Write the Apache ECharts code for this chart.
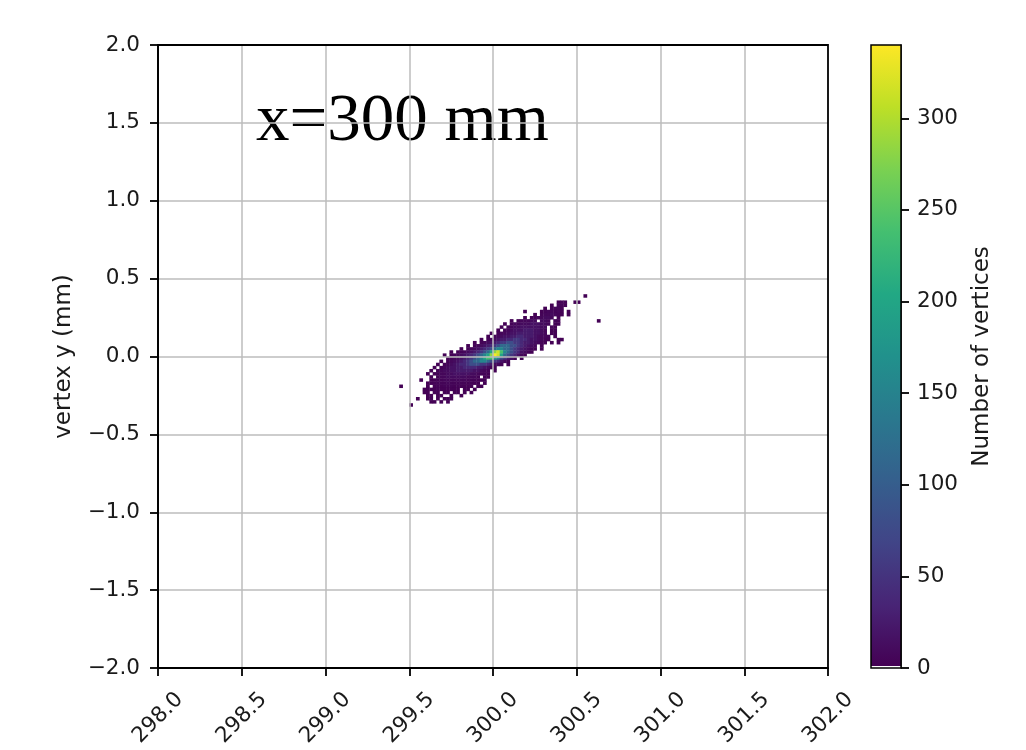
<!DOCTYPE html>
<html>
<head>
<meta charset="utf-8">
<script src="https://cdn.jsdelivr.net/npm/echarts@6/dist/echarts.min.js"></script>
<style>
  html, body { margin: 0; padding: 0; background: #fff; }
  #chart { width: 1026px; height: 750px; }
</style>
</head>
<body>
<div id="chart"></div>
<script>
// 2D histogram of vertex positions, bins of 0.02 mm
const titleText = 'x=300 mm';
const xRange = [298, 302];
const yRange = [-2, 2];
const tickStep = 0.5;
const binSize = 0.02;
const firstBinX = 299.44;   // left edge of column 0
const firstBinY = 0.38;     // bottom edge of row 0 (rows go downwards)

// one character per bin, '.' = empty
const levelKeys = '123456789ABCDEFG';
const levelCounts = [1, 3, 6, 10, 16, 25, 38, 55, 80, 115, 155, 200, 240, 280, 315, 340];

// [first column, bins] for each row from y=0.38 down to y=-0.32
const cellRows = [
  [55, '1'],
  [0, ''],
  [47, '121..11'],
  [45, '1.321'],
  [43, '1.2331'],
  [37, '1....1233231.1'],
  [40, '1.2334321.1'],
  [37, '1.1233443.1'],
  [33, '1.233344.443.21...........1'],
  [31, '1.233444555443.11'],
  [30, '1.234455555544.21'],
  [29, '1.2345556665543.11'],
  [27, '1.133455666665543.11'],
  [26, '1.23455667766654332.1'],
  [24, '1.2345667788776554321..11'],
  [22, '1.23456788998876654321.1.1'],
  [20, '1.23456789AAA99876543.1'],
  [18, '1.23456789ABBAA98765421.1'],
  [15, '1.123456789ACEFDBA9875421'],
  [13, '1.123456789ABCEGFCA987531'],
  [14, '123456789ABCDDCB98652.1'],
  [12, '1.23456789AABBA987531'],
  [11, '1.234567789998876431.1'],
  [10, '1.23455667777665421'],
  [9, '1.2344556666655432.1'],
  [8, '1.12334455555443221'],
  [9, '1.2334444443332.11'],
  [6, '1..11223333333222111'],
  [8, '1122223222221211.1'],
  [0, '1.......1.121222121111.11'],
  [7, '11112111111.11.1'],
  [7, '11.11.11.11.1.1'],
  [8, '11.11..1..1'],
  [5, '1..11.1.111'],
  [9, '11.1.1'],
  [3, '1']
];

const colorbarRange = [0, 340];
const colorbarTicks = [0, 50, 100, 150, 200, 250, 300];
const viridis = ['#440154', '#482475', '#414487', '#355f8d', '#2a788e', '#21918c',
                 '#22a884', '#44bf70', '#7ad151', '#bddf26', '#fde725'];

const cells = [];
cellRows.forEach(([start, row], r) => {
  for (let i = 0; i < row.length; i++) {
    const k = levelKeys.indexOf(row[i]);
    if (k < 0) continue;
    cells.push([firstBinX + (start + i) * binSize, firstBinY - r * binSize, levelCounts[k]]);
  }
});

const font = 'DejaVu Sans';
const ink = '#1a1a1a';
const fmt = v => (v < 0 ? '\u2212' : '') + Math.abs(v).toFixed(1);

const stops = [{ offset: 0, color: '#ffffff' }, { offset: 0.003, color: '#ffffff' }];
viridis.forEach((c, i) => {
  stops.push({ offset: Math.max(0.0031, i / (viridis.length - 1)), color: c });
});

const chart = echarts.init(document.getElementById('chart'), null, { renderer: 'canvas' });
chart.setOption({
  animation: false,
  title: {
    text: titleText, left: 256, top: 89, padding: 0,
    textStyle: { fontFamily: 'Liberation Serif', fontSize: 67, fontWeight: 'normal', color: '#000' }
  },
  grid: [
    { left: 158, top: 45, width: 670, height: 623, show: true, borderColor: '#000', borderWidth: 1.8, z: 12 },
    { left: 871, top: 45, width: 30, height: 623, show: true, borderColor: '#000', borderWidth: 1.5, z: 12 }
  ],
  visualMap: {
    show: false, type: 'continuous', seriesIndex: 0, dimension: 2,
    min: colorbarRange[0], max: colorbarRange[1],
    inRange: { color: viridis }
  },
  xAxis: [
    {
      type: 'value', gridIndex: 0, min: xRange[0], max: xRange[1], interval: tickStep, z: 10,
      axisLine: { show: true, onZero: false, lineStyle: { color: '#000', width: 1.8 } },
      axisTick: { show: true, length: 8, lineStyle: { color: '#000', width: 1.8 } },
      axisLabel: {
        rotate: 45, align: 'center', verticalAlign: 'middle', margin: 50,
        fontFamily: font, fontSize: 21.5, color: ink, formatter: fmt
      },
      splitLine: { show: true, showMinLine: false, showMaxLine: false, lineStyle: { color: '#bdbdbd', width: 1.5 } }
    },
    { type: 'value', gridIndex: 1, min: 0, max: 1, show: false }
  ],
  yAxis: [
    {
      type: 'value', gridIndex: 0, min: yRange[0], max: yRange[1], interval: tickStep, z: 10,
      axisLine: { show: true, onZero: false, lineStyle: { color: '#000', width: 1.8 } },
      axisTick: { show: true, length: 8, lineStyle: { color: '#000', width: 1.8 } },
      axisLabel: { margin: 18, fontFamily: font, fontSize: 21.5, color: ink, formatter: fmt },
      splitLine: { show: true, showMinLine: false, showMaxLine: false, lineStyle: { color: '#bdbdbd', width: 1.5 } },
      name: 'vertex y (mm)', nameLocation: 'middle', nameGap: 82,
      nameTextStyle: { fontFamily: font, fontSize: 23, color: ink }
    },
    {
      type: 'value', gridIndex: 1, position: 'right',
      min: colorbarRange[0], max: colorbarRange[1],
      axisLine: { show: true, onZero: false, lineStyle: { color: '#000', width: 1.5 } },
      axisTick: { show: true, length: 8, customValues: colorbarTicks, lineStyle: { color: '#000', width: 1.8 } },
      axisLabel: { margin: 16, customValues: colorbarTicks, fontFamily: font, fontSize: 21.5, color: ink },
      splitLine: { show: false },
      name: 'Number of vertices', nameLocation: 'middle', nameRotate: 90, nameGap: 70,
      nameTextStyle: { fontFamily: font, fontSize: 23, color: ink }
    }
  ],
  series: [
    {
      type: 'custom', xAxisIndex: 0, yAxisIndex: 0, z: 2,
      data: cells,
      encode: { x: 0, y: 1 },
      renderItem: (params, api) => {
        const x = api.value(0), y = api.value(1);
        const p0 = api.coord([x, y + binSize]);
        const p1 = api.coord([x + binSize, y]);
        return {
          type: 'rect',
          shape: { x: p0[0], y: p0[1], width: p1[0] - p0[0] + 0.4, height: p1[1] - p0[1] + 0.4 },
          style: { fill: api.visual('color') }
        };
      }
    },
    {
      type: 'custom', xAxisIndex: 1, yAxisIndex: 1,
      data: [[0, colorbarRange[0]]],
      renderItem: (params, api) => {
        const p0 = api.coord([0, colorbarRange[1]]);
        const p1 = api.coord([1, colorbarRange[0]]);
        return {
          type: 'rect',
          shape: { x: p0[0], y: p0[1], width: p1[0] - p0[0], height: p1[1] - p0[1] },
          style: { fill: new echarts.graphic.LinearGradient(0, 1, 0, 0, stops) }
        };
      }
    }
  ]
});
</script>
</body>
</html>
